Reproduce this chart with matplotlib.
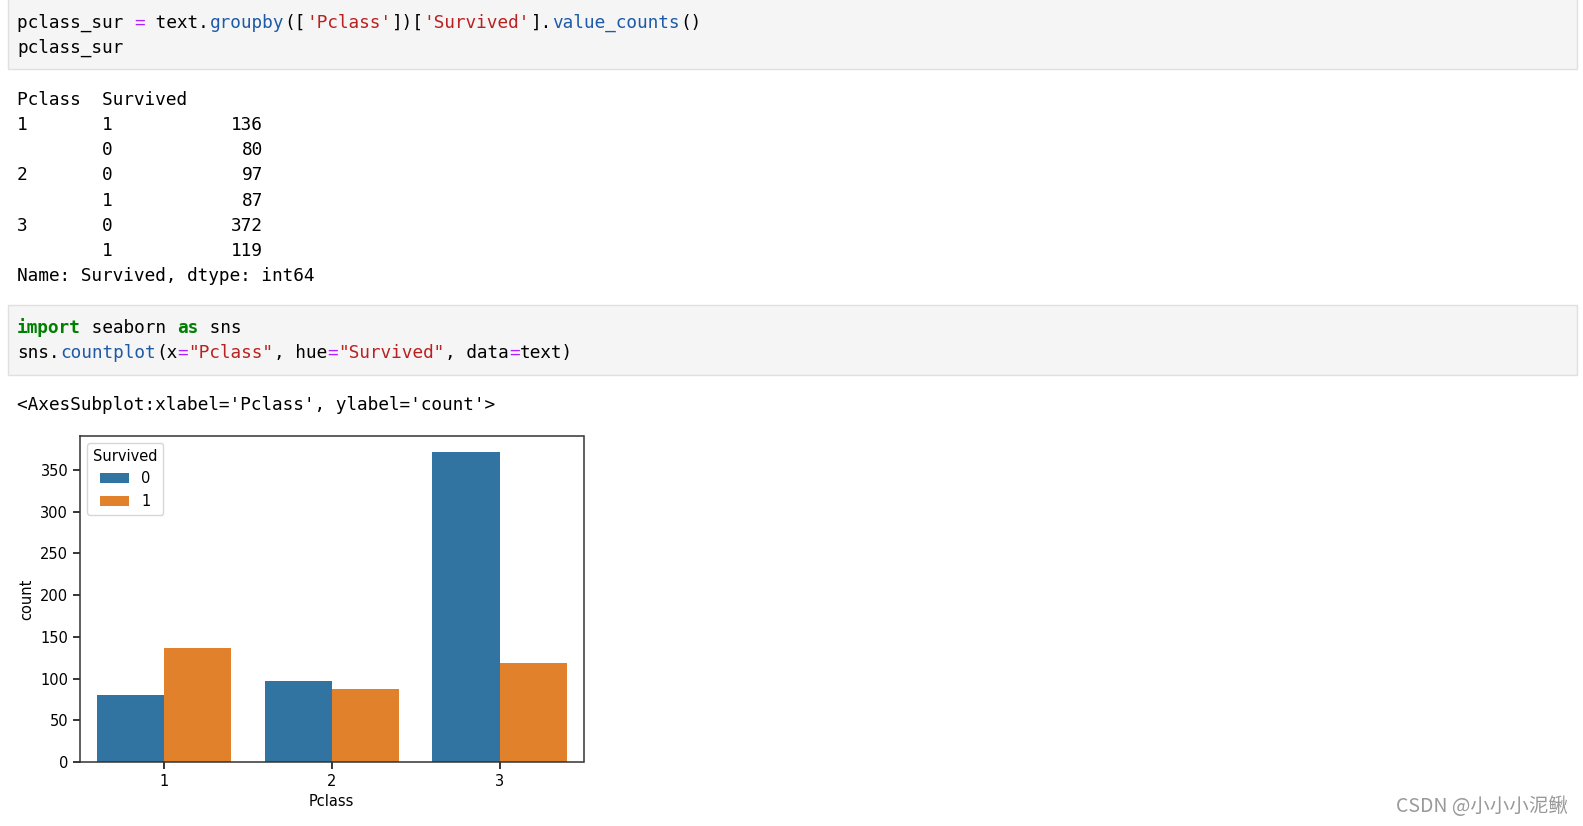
import matplotlib
matplotlib.use("Agg")
import matplotlib.pyplot as plt
import numpy as np
from matplotlib.patches import Rectangle

W, H = 1583, 826

# data
pclass = ["1", "2", "3"]
survived_0 = [80, 97, 372]
survived_1 = [136, 87, 119]
hue_levels = ["0", "1"]
bar_colors = ["#3274a1", "#e1812c"]

table_rows = [
    ("Pclass  Survived", ""),
    ("1       1", "136"),
    ("        0", "80"),
    ("2       0", "97"),
    ("        1", "87"),
    ("3       0", "372"),
    ("        1", "119"),
    ("Name: Survived, dtype: int64", None),
]

BLACK = "#000000"
OP = "#aa22ff"
PROP = "#1e5aa8"
STR = "#ba2121"
KW = "#008000"

cell1 = [
    [("pclass_sur ", BLACK), ("=", OP), (" text.", BLACK), ("groupby", PROP), ("([", BLACK),
     ("'Pclass'", STR), ("])[", BLACK), ("'Survived'", STR), ("].", BLACK),
     ("value_counts", PROP), ("()", BLACK)],
    [("pclass_sur", BLACK)],
]
cell2 = [
    [("import", KW, "bold"), (" seaborn ", BLACK), ("as", KW, "bold"), (" sns", BLACK)],
    [("sns.", BLACK), ("countplot", PROP), ("(x", BLACK), ("=", OP), ('"Pclass"', STR),
     (", hue", BLACK), ("=", OP), ('"Survived"', STR), (", data", BLACK), ("=", OP),
     ("text)", BLACK)],
]

fig = plt.figure(figsize=(W / 100, H / 100), dpi=100)
fig.patch.set_facecolor("white")

MONO = "DejaVu Sans Mono"
FS = 12.8
CW = 10.7  # px per character
DY = 2.0   # vertical nudge for text lines


def fx(x):
    return x / W


def fy(y):
    return 1 - y / H


def code_line(segs, x0, y):
    n = 0
    for seg in segs:
        s, c = seg[0], seg[1]
        wt = seg[2] if len(seg) > 2 else "normal"
        fig.text(fx(x0 + n * CW), fy(y + DY), s, color=c, fontsize=FS, family=MONO,
                 weight=wt, va="center", ha="left")
        n += len(s)


def cell_bg(y0, y1):
    fig.patches.append(Rectangle((fx(8), fy(y1)), fx(1577) - fx(8), fy(y0) - fy(y1),
                                 transform=fig.transFigure, facecolor="#f5f5f5",
                                 edgecolor="#e0e0e0", lw=1))


cell_bg(-2, 69)
for i, segs in enumerate(cell1):
    code_line(segs, 17, 20.5 + i * 25.2)

for i, (left, num) in enumerate(table_rows):
    y = 97.9 + i * 25.2 + DY
    fig.text(fx(17), fy(y), left, color=BLACK, fontsize=FS, family=MONO, va="center")
    if num:
        fig.text(fx(17 + 23 * CW), fy(y), num, color=BLACK, fontsize=FS, family=MONO,
                 va="center", ha="right")

cell_bg(305, 374.5)
for i, segs in enumerate(cell2):
    code_line(segs, 17, 326 + i * 25.2)

fig.text(fx(17), fy(402.8 + DY), "<AxesSubplot:xlabel='Pclass', ylabel='count'>", color=BLACK,
         fontsize=FS, family=MONO, va="center")

# chart
ax = fig.add_axes([fx(80), fy(762), fx(583.5) - fx(80), fy(436) - fy(762)])
x = np.arange(len(pclass))
bw = 0.4
ax.bar(x - bw / 2, survived_0, width=bw, color=bar_colors[0], label=hue_levels[0])
ax.bar(x + bw / 2, survived_1, width=bw, color=bar_colors[1], label=hue_levels[1])
ax.set_xlim(-0.5, len(pclass) - 0.5)
ax.set_ylim(0, max(survived_0 + survived_1) * 1.05)
ax.set_xticks(x)
ax.set_xticklabels(pclass)
ax.set_yticks(np.arange(0, 351, 50))
ax.tick_params(labelsize=10.5, length=5, width=1.1)
for s in ax.spines.values():
    s.set_linewidth(1.1)
    s.set_color("#333333")
ax.set_xlabel("Pclass", fontsize=10.5)
ax.set_ylabel("count", fontsize=10.5)
leg = ax.legend(title="Survived", loc="upper left", fontsize=10.5, title_fontsize=10.5)

fig.text(fx(1568), fy(807), "CSDN @小小小泥鳅", color="#999999", fontsize=14,
         family=["Noto Sans CJK SC", "DejaVu Sans"], ha="right", va="center")

fig.savefig("out.png", dpi=100)
